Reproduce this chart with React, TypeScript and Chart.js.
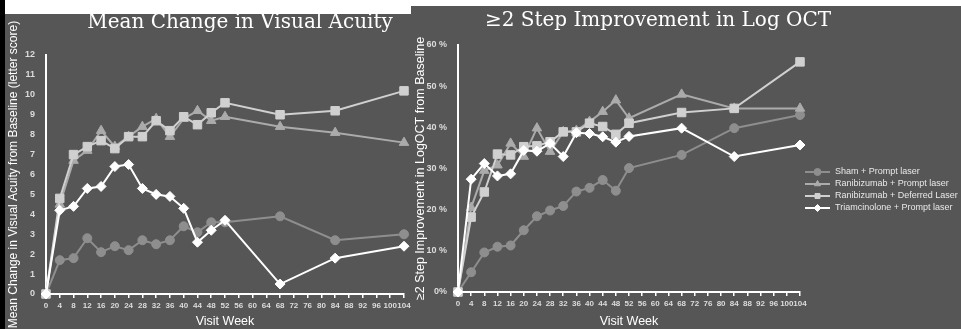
import React, { useEffect, useRef } from 'react';
import { Chart, registerables } from 'chart.js';
import { drawPoint } from 'chart.js/helpers';

Chart.register(...registerables);

// ---------------- data ----------------
const weeks = [0, 4, 8, 12, 16, 20, 24, 28, 32, 36, 40, 44, 48, 52, 68, 84, 104];

const seriesLabels = [
  'Sham + Prompt laser',
  'Ranibizumab + Prompt laser',
  'Ranibizumab + Deferred Laser',
  'Triamcinolone + Prompt laser',
];

// Mean change in visual acuity (letter score)
const vaSham = [0, 1.7, 1.8, 2.8, 2.1, 2.4, 2.2, 2.7, 2.5, 2.7, 3.4, 3.1, 3.6, 3.6, 3.9, 2.7, 3.0];
const vaRanPrompt = [0, 4.5, 6.7, 7.2, 8.2, 7.4, 7.9, 8.4, 8.8, 7.9, 8.8, 9.2, 8.7, 8.9, 8.4, 8.1, 7.6];
const vaRanDeferred = [0, 4.8, 7.0, 7.4, 7.7, 7.3, 7.9, 7.9, 8.7, 8.2, 8.9, 8.5, 9.1, 9.6, 9.0, 9.2, 10.2];
const vaTriam = [0, 4.2, 4.4, 5.3, 5.4, 6.4, 6.5, 5.3, 5.0, 4.9, 4.3, 2.6, 3.2, 3.7, 0.5, 1.8, 2.4];

// >=2 step improvement in log OCT (%)
const octSham = [0, 4.8, 9.6, 11, 11.3, 15, 18.4, 19.8, 20.9, 24.4, 25.3, 27.2, 24.6, 30.1, 33.3, 39.8, 43.0];
const octRanPrompt = [0, 20.5, 29.5, 30.8, 36.1, 32.9, 39.8, 34.1, 38.9, 39.2, 41.4, 43.8, 46.6, 42.2, 48.0, 44.6, 44.6];
const octRanDeferred = [0, 18.2, 24.3, 33.5, 33.3, 35.3, 35.5, 36.5, 38.9, 38.9, 41.0, 40.2, 38.3, 41.0, 43.6, 44.6, 55.9];
const octTriam = [0, 27.4, 31.2, 28.2, 28.7, 34.4, 34.2, 36.1, 32.9, 38.7, 38.5, 37.7, 36.4, 37.8, 39.8, 32.9, 35.7];

const vaTitle = 'Mean Change in Visual Acuity';
const octTitle = '\u22652 Step Improvement in Log OCT';
const vaYTitle = 'Mean Change in Visual Acuity from Baseline (letter score)';
const octYTitle = '\u22652 Step Improvement in LogOCT from Baseline';
const xTitle = 'Visit Week';

// ---------------- styles ----------------
const BG = '#565656';
const seriesStyle = [
  { color: '#8e8e8e', pointStyle: 'circle', radius: 4.5 },
  { color: '#ababab', pointStyle: 'triangle', radius: 5.5 },
  { color: '#d0d0d0', pointStyle: 'rect', radius: 6 },
  { color: '#ffffff', pointStyle: 'rectRot', radius: 5 },
];

function buildDatasets(values: number[][]) {
  return values.map((vals, i) => {
    const st = seriesStyle[i];
    return {
      label: seriesLabels[i],
      data: weeks.map((w, j) => ({ x: w, y: vals[j] })),
      borderColor: st.color,
      backgroundColor: st.color,
      pointBackgroundColor: st.color,
      pointBorderColor: st.color,
      pointStyle: st.pointStyle,
      pointRadius: st.radius,
      pointBorderWidth: 1,
      borderWidth: 2,
      tension: 0,
      clip: false,
      order: 3 - i,
      xAxisID: 'x',
      yAxisID: 'y',
    };
  });
}

const sideLegend = {
  id: 'sideLegend',
  afterDraw(chart: any) {
    const ctx = chart.ctx;
    const originX = 450; // canvas coords
    chart.data.datasets.forEach((ds: any, i: number) => {
      const y = 172 + i * 12;
      ctx.save();
      ctx.strokeStyle = ds.borderColor;
      ctx.lineWidth = 2;
      ctx.beginPath();
      ctx.moveTo(originX, y);
      ctx.lineTo(originX + 25, y);
      ctx.stroke();
      ctx.fillStyle = ds.pointBackgroundColor;
      ctx.lineWidth = 1;
      drawPoint(ctx, { pointStyle: ds.pointStyle, rotation: 0, radius: 3.5, borderWidth: 1 } as any, originX + 12.5, y);
      ctx.fillStyle = '#e8e8e8';
      ctx.font = '9px "Liberation Sans"';
      ctx.textBaseline = 'middle';
      ctx.textAlign = 'left';
      ctx.fillText(ds.label, originX + 30, y);
      ctx.restore();
    });
  },
};

interface ChartSpec {
  title: string;
  titlePadTop: number;
  titlePadBottom: number;
  yTitle: string;
  yTitleSize: number;
  yTitlePad: number;
  yMin: number;
  yMax: number;
  yStep: number;
  yLabel: (v: number) => string;
  yWidth: number;
  rightWidth: number;
  xHeight: number;
  values: number[][];
  extraPlugins: any[];
}

function makeConfig(s: ChartSpec): any {
  return {
    type: 'line',
    data: { datasets: buildDatasets(s.values) },
    options: {
      animation: false,
      responsive: false,
      devicePixelRatio: 1,
      events: [],
      layout: { padding: 0 },
      plugins: {
        legend: { display: false },
        tooltip: { enabled: false },
        title: {
          display: true,
          text: s.title,
          color: '#ffffff',
          font: { family: '"DejaVu Serif"', size: 20, weight: 'normal', lineHeight: 1.2 },
          padding: { top: s.titlePadTop, bottom: s.titlePadBottom },
        },
      },
      scales: {
        x: {
          type: 'linear',
          position: 'bottom',
          min: 0,
          max: 104,
          ticks: {
            stepSize: 4,
            autoSkip: false,
            maxRotation: 0,
            minRotation: 0,
            color: '#dcdcdc',
            font: { family: '"Liberation Sans"', size: 8, weight: 'bold' },
            padding: 3,
          },
          grid: { display: true, drawOnChartArea: false, drawTicks: true, tickLength: 4, color: '#ffffff', lineWidth: 1.5 },
          border: { display: true, color: '#ffffff', width: 2 },
          title: {
            display: true,
            text: xTitle,
            color: '#ffffff',
            font: { family: '"Liberation Sans"', size: 12.5, lineHeight: 1.2 },
            padding: { top: 0, bottom: 0 },
          },
          afterFit: (sc: any) => { sc.height = s.xHeight; },
        },
        y: {
          type: 'linear',
          position: 'left',
          min: s.yMin,
          max: s.yMax,
          ticks: {
            stepSize: s.yStep,
            color: '#dcdcdc',
            font: { family: '"Liberation Sans"', size: 9, weight: 'bold' },
            padding: 3,
            callback: (v: any) => s.yLabel(Number(v)),
          },
          grid: { display: false },
          border: { display: true, color: '#ffffff', width: 2 },
          title: {
            display: true,
            text: s.yTitle,
            color: '#ffffff',
            font: { family: '"Liberation Sans"', size: s.yTitleSize, lineHeight: 1.2 },
            padding: { top: s.yTitlePad, bottom: 0 },
          },
          afterFit: (sc: any) => { sc.width = s.yWidth; },
        },
        yPad: {
          type: 'linear',
          axis: 'y',
          position: 'right',
          display: true,
          ticks: { display: false },
          grid: { display: false },
          border: { display: false },
          afterFit: (sc: any) => { sc.width = s.rightWidth; },
        },
      },
    },
    plugins: s.extraPlugins,
  };
}

function ChartCanvas({ left, width, spec }: { left: number; width: number; spec: ChartSpec }) {
  const ref = useRef<HTMLCanvasElement | null>(null);
  useEffect(() => {
    if (!ref.current) return;
    const chart = new Chart(ref.current, makeConfig(spec));
    return () => chart.destroy();
  }, []);
  return (
    <canvas
      ref={ref}
      width={width}
      height={329}
      style={{ position: 'absolute', left, top: 0, width, height: 329 }}
    />
  );
}

const vaSpec: ChartSpec = {
  title: vaTitle,
  titlePadTop: 11,
  titlePadBottom: 20,
  yTitle: vaYTitle,
  yTitleSize: 12,
  yTitlePad: 6,
  yMin: 0,
  yMax: 12,
  yStep: 1,
  yLabel: (v) => String(v),
  yWidth: 46,
  rightWidth: 76,
  xHeight: 35,
  values: [vaSham, vaRanPrompt, vaRanDeferred, vaTriam],
  extraPlugins: [],
};

const octSpec: ChartSpec = {
  title: octTitle,
  titlePadTop: 9,
  titlePadBottom: 12,
  yTitle: octYTitle,
  yTitleSize: 12.5,
  yTitlePad: 58.5,
  yMin: 0,
  yMax: 60,
  yStep: 10,
  yLabel: (v) => (v === 0 ? '0%' : `${v} %`),
  yWidth: 103,
  rightWidth: 161,
  xHeight: 37,
  values: [octSham, octRanPrompt, octRanDeferred, octTriam],
  extraPlugins: [sideLegend],
};

export default function App() {
  return (
    <div
      style={{
        position: 'fixed',
        left: 0,
        top: 0,
        width: 961,
        height: 329,
        background: BG,
        overflow: 'hidden',
      }}
    >
      <div style={{ position: 'absolute', left: 0, top: 0, width: 5, height: 329, background: '#000' }} />
      <div style={{ position: 'absolute', left: 5, top: 0, width: 406, height: 14, background: '#fff' }} />
      <div style={{ position: 'absolute', left: 411, top: 0, width: 550, height: 6, background: '#fff' }} />
      <ChartCanvas left={0} width={480} spec={vaSpec} />
      <ChartCanvas left={355} width={606} spec={octSpec} />
    </div>
  );
}
